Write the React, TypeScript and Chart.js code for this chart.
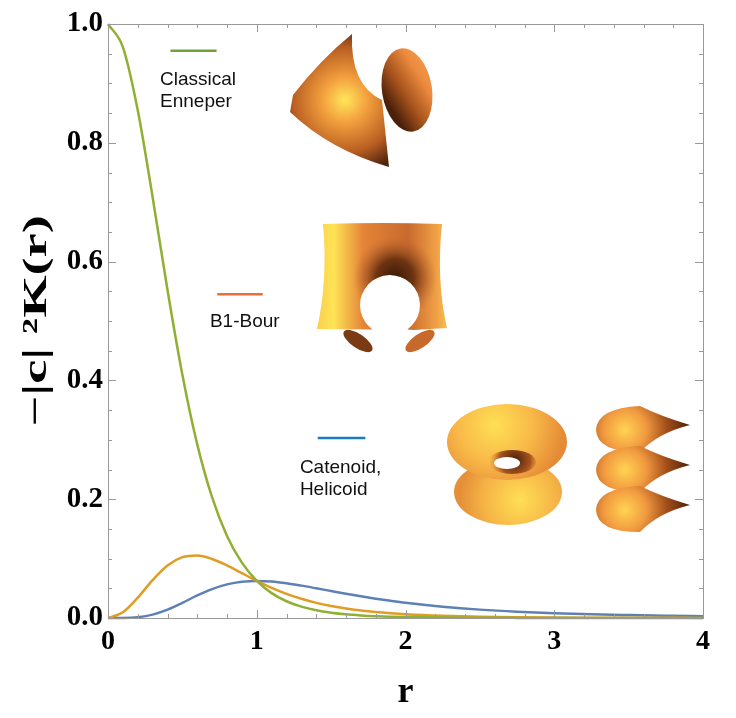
import { useEffect, useRef } from "react";
import { Chart, registerables } from "chart.js";

Chart.register(...registerables);

// r values and -|c|^2 K(r)
const rValues = [
  0, 0.1, 0.2, 0.3, 0.4, 0.5, 0.6, 0.7, 0.8, 0.9, 1.0, 1.1, 1.2, 1.3, 1.4, 1.5, 1.6, 1.7, 1.8, 1.9, 2.0,
  2.25, 2.5, 2.75, 3.0, 3.25, 3.5, 3.75, 4.0,
];
const enneper = [
  1, 0.961, 0.8548, 0.7084, 0.5523, 0.4096, 0.2923, 0.2029, 0.1382, 0.0932, 0.0625, 0.0419, 0.0282, 0.0191,
  0.013, 0.009, 0.0062, 0.0044, 0.0031, 0.0022, 0.0016, 0.0007, 0.0004, 0.0002, 0.0001, 0.0001, 0, 0, 0,
];
const bour = [
  0, 0.0096, 0.0342, 0.0638, 0.0884, 0.1024, 0.1052, 0.0994, 0.0885, 0.0755, 0.0625, 0.0507, 0.0406, 0.0323,
  0.0255, 0.0202, 0.0159, 0.0126, 0.01, 0.008, 0.0064, 0.0038, 0.0023, 0.0014, 0.0009, 0.0006, 0.0004, 0.0003,
  0.0002,
];
const catenoid = [
  0, 0.0001, 0.0014, 0.0057, 0.0141, 0.0256, 0.0379, 0.0487, 0.0566, 0.0611, 0.0625, 0.0614, 0.0585, 0.0545,
  0.05, 0.0454, 0.0408, 0.0365, 0.0325, 0.0289, 0.0256, 0.019, 0.0141, 0.0106, 0.0081, 0.0062, 0.0049, 0.0038,
  0.0031,
];

const xTicks = [0, 1, 2, 3, 4];
const yTicks = [0, 0.2, 0.4, 0.6, 0.8, 1.0];
const xMinor = [0.2, 0.4, 0.6, 0.8, 1.2, 1.4, 1.6, 1.8, 2.2, 2.4, 2.6, 2.8, 3.2, 3.4, 3.6, 3.8];
const yMinor = [0.05, 0.1, 0.15, 0.25, 0.3, 0.35, 0.45, 0.5, 0.55, 0.65, 0.7, 0.75, 0.85, 0.9, 0.95];

const SERIF = "'Liberation Serif', 'DejaVu Serif', serif";
const SANS = "'Liberation Sans', Arial, sans-serif";

// frame with inward ticks on all four sides, plus the stretched y title
const framePlugin = {
  id: "frame",
  afterDraw(chart: any) {
    const { ctx, chartArea: a, scales } = chart;
    const x = scales.x;
    const y = scales.y;
    ctx.save();
    ctx.strokeStyle = "#9a9a9a";
    ctx.lineWidth = 1;
    ctx.strokeRect(a.left + 0.5, a.top + 0.5, a.right - a.left, a.bottom - a.top);
    ctx.beginPath();
    const xt = (v: number, len: number) => {
      const px = Math.round(x.getPixelForValue(v)) + 0.5;
      ctx.moveTo(px, a.bottom);
      ctx.lineTo(px, a.bottom - len);
      ctx.moveTo(px, a.top);
      ctx.lineTo(px, a.top + len);
    };
    const yt = (v: number, len: number) => {
      const py = Math.round(y.getPixelForValue(v)) + 0.5;
      ctx.moveTo(a.left, py);
      ctx.lineTo(a.left + len, py);
      ctx.moveTo(a.right, py);
      ctx.lineTo(a.right - len, py);
    };
    xTicks.forEach((v) => xt(v, 8));
    xMinor.forEach((v) => xt(v, 4));
    yTicks.forEach((v) => yt(v, 8));
    yMinor.forEach((v) => yt(v, 4));
    ctx.stroke();

    ctx.translate(37, (a.top + a.bottom) / 2);
    ctx.rotate(-Math.PI / 2);
    ctx.scale(1.6, 1);
    ctx.fillStyle = "#000";
    ctx.font = `bold 34px ${SERIF}`;
    ctx.textAlign = "center";
    ctx.textBaseline = "middle";
    ctx.fillText("−|c| ²K(r)", 0, 0);
    ctx.restore();
  },
};

// legend entries written inside the plot, placed in data units
const labelPlugin = {
  id: "labels",
  afterDatasetsDraw(chart: any) {
    const { ctx, scales } = chart;
    const X = (v: number) => scales.x.getPixelForValue(v);
    const Y = (v: number) => scales.y.getPixelForValue(v);
    const entries = [
      { color: "#72a03a", line: [0.42, 0.73, 0.955], text: ["Classical", "Enneper"], at: [0.35, 0.906] },
      { color: "#ee6b3b", line: [0.735, 1.04, 0.545], text: ["B1-Bour"], at: [0.685, 0.498] },
      { color: "#1b7cc0", line: [1.41, 1.73, 0.303], text: ["Catenoid,", "Helicoid"], at: [1.29, 0.253] },
    ];
    ctx.save();
    entries.forEach((e) => {
      ctx.strokeStyle = e.color;
      ctx.lineWidth = 2.5;
      ctx.beginPath();
      ctx.moveTo(X(e.line[0]), Y(e.line[2]));
      ctx.lineTo(X(e.line[1]), Y(e.line[2]));
      ctx.stroke();
      ctx.fillStyle = "#111";
      ctx.font = `19px ${SANS}`;
      ctx.textAlign = "left";
      ctx.textBaseline = "middle";
      e.text.forEach((t, i) => ctx.fillText(t, X(e.at[0]), Y(e.at[1]) + i * 22));
    });
    ctx.restore();
  },
};

// rough sketches of the surface renderings
const surfacePlugin = {
  id: "surfaces",
  beforeDatasetsDraw(chart: any) {
    const { ctx, chartArea: a } = chart;
    const sx = (a.right - a.left) / 595;
    const sy = (a.bottom - a.top) / 594;
    const P = (px: number, py: number): [number, number] => [a.left + (px - 108) * sx, a.top + (py - 24) * sy];
    const radial = (cx: number, cy: number, r: number, stops: [number, string][]) => {
      const [x, y] = P(cx, cy);
      const g = ctx.createRadialGradient(x, y, 0, x, y, r * sx);
      stops.forEach(([o, c]) => g.addColorStop(o, c));
      return g;
    };
    const linear = (x0: number, y0: number, x1: number, y1: number, stops: [number, string][]) => {
      const [ax, ay] = P(x0, y0);
      const [bx, by] = P(x1, y1);
      const g = ctx.createLinearGradient(ax, ay, bx, by);
      stops.forEach(([o, c]) => g.addColorStop(o, c));
      return g;
    };
    const path = (pts: number[][]) => {
      ctx.beginPath();
      pts.forEach((p, i) => {
        if (i === 0) ctx.moveTo(...P(p[0], p[1]));
        else if (p.length === 4) ctx.quadraticCurveTo(...P(p[0], p[1]), ...P(p[2], p[3]));
        else ctx.lineTo(...P(p[0], p[1]));
      });
      ctx.closePath();
    };
    const ellipse = (cx: number, cy: number, rx: number, ry: number, rot = 0) => {
      ctx.beginPath();
      const [x, y] = P(cx, cy);
      ctx.ellipse(x, y, rx * sx, ry * sy, rot, 0, Math.PI * 2);
    };
    ctx.save();

    // Enneper
    ellipse(407, 90, 25, 42, -0.15);
    ctx.fillStyle = linear(385, 100, 432, 70, [
      [0, "#4a200a"],
      [0.35, "#a5521c"],
      [0.75, "#ec8a3e"],
      [1, "#f39a48"],
    ]);
    ctx.fill();
    path([
      [293, 95],
      [320, 60, 352, 34],
      [350, 85, 382, 100],
      [389, 167],
      [330, 150, 290, 112],
    ]);
    ctx.fillStyle = radial(345, 100, 75, [
      [0, "#ffe65a"],
      [0.3, "#f3a03e"],
      [0.7, "#b85e22"],
      [1, "#4e230c"],
    ]);
    ctx.fill();

    // B1-Bour: sheet with a round hole and two hanging flaps
    ctx.fillStyle = "#7a3a14";
    ellipse(358, 341, 17, 7, 0.6);
    ctx.fill();
    ctx.fillStyle = "#c8692c";
    ellipse(420, 341, 17, 7, -0.6);
    ctx.fill();
    const [hx, hy] = P(390, 305);
    const hr = 30 * sx;
    ctx.beginPath();
    ctx.moveTo(...P(323, 224));
    ctx.quadraticCurveTo(...P(382, 222), ...P(442, 224));
    ctx.quadraticCurveTo(...P(436, 280), ...P(447, 328));
    ctx.lineTo(...P(414, 330));
    ctx.arc(hx, hy, hr, 0.95, Math.PI - 0.95, true);
    ctx.lineTo(...P(317, 329));
    ctx.quadraticCurveTo(...P(328, 280), ...P(323, 224));
    ctx.closePath();
    ctx.fillStyle = linear(318, 280, 447, 280, [
      [0, "#fbcf4e"],
      [0.12, "#ffe455"],
      [0.35, "#e48438"],
      [0.7, "#c96a2e"],
      [0.92, "#f0a046"],
      [1, "#f6c04c"],
    ]);
    ctx.fill();
    ctx.fillStyle = radial(395, 278, 42, [
      [0, "#3a1806"],
      [0.45, "#6e3412"],
      [1, "rgba(190,100,45,0)"],
    ]);
    ctx.fill();

    // Catenoid
    ellipse(508, 492, 54, 33);
    ctx.fillStyle = radial(520, 500, 60, [
      [0, "#ffdf55"],
      [0.6, "#f6b447"],
      [1, "#e59038"],
    ]);
    ctx.fill();
    ellipse(507, 442, 60, 38);
    ctx.fillStyle = radial(495, 425, 70, [
      [0, "#ffe055"],
      [0.55, "#f8b848"],
      [1, "#e58a36"],
    ]);
    ctx.fill();
    ellipse(512, 462, 24, 12);
    ctx.fillStyle = radial(515, 460, 26, [
      [0, "#4a200a"],
      [0.6, "#a8541e"],
      [1, "rgba(235,140,60,0)"],
    ]);
    ctx.fill();
    ellipse(507, 463, 13, 6);
    ctx.fillStyle = "#ffffff";
    ctx.fill();

    // Helicoid
    [430, 470, 510].forEach((yc) => {
      path([
        [640, yc - 24],
        [597, yc - 22, 596, yc],
        [597, yc + 22, 640, yc + 22],
        [658, yc + 3, 690, yc - 5],
        [660, yc - 14, 640, yc - 24],
      ]);
      ctx.fillStyle = radial(625, yc, 70, [
        [0, "#ffd452"],
        [0.3, "#f29a40"],
        [0.6, "#a24e1a"],
        [1, "#3a1806"],
      ]);
      ctx.fill();
    });
    ctx.restore();
  },
};

export default function App() {
  const canvasRef = useRef<HTMLCanvasElement>(null);

  useEffect(() => {
    document.body.style.margin = "0";
    const ctx = canvasRef.current;
    if (!ctx) return;

    const toPoints = (vals: number[]) => vals.map((v, i) => ({ x: rValues[i], y: v }));
    const line = (label: string, vals: number[], color: string) => ({
      label,
      data: toPoints(vals),
      borderColor: color,
      backgroundColor: color,
      borderWidth: 2.5,
      pointRadius: 0,
      cubicInterpolationMode: "monotone" as const,
      clip: 4,
    });

    const chart = new Chart(ctx, {
      type: "line",
      data: {
        datasets: [
          line("Classical Enneper", enneper, "#8fb032"),
          line("B1-Bour", bour, "#e19c24"),
          line("Catenoid, Helicoid", catenoid, "#5e81b5"),
        ],
      },
      options: {
        animation: false,
        responsive: true,
        maintainAspectRatio: false,
        layout: { padding: { top: 24, right: 33, left: 0, bottom: 0 } },
        plugins: { legend: { display: false }, tooltip: { enabled: false } },
        scales: {
          x: {
            type: "linear",
            min: 0,
            max: 4,
            grid: { display: false, drawTicks: false },
            border: { display: false },
            afterBuildTicks: (s: any) => {
              s.ticks = xTicks.map((v) => ({ value: v }));
            },
            afterFit: (s: any) => {
              s.height = 100;
            },
            ticks: {
              color: "#000",
              padding: 7,
              font: { family: SERIF, size: 28, weight: "bold" },
              callback: (v: any) => String(v),
            },
            title: {
              display: true,
              text: "r",
              color: "#000",
              padding: { top: 14 },
              font: { family: SERIF, size: 36, weight: "bold" },
            },
          },
          y: {
            min: 0,
            max: 1,
            grid: { display: false, drawTicks: false },
            border: { display: false },
            afterBuildTicks: (s: any) => {
              s.ticks = yTicks.map((v) => ({ value: v }));
            },
            afterFit: (s: any) => {
              s.width = 108;
            },
            ticks: {
              color: "#000",
              padding: 5,
              font: { family: SERIF, size: 29, weight: "bold" },
              callback: (v: any) => Number(v).toFixed(1),
            },
          },
        },
      },
      plugins: [surfacePlugin, framePlugin, labelPlugin],
    });

    return () => {
      chart.destroy();
    };
  }, []);

  return (
    <div style={{ width: 736, height: 718, position: "relative" }}>
      <canvas ref={canvasRef}></canvas>
    </div>
  );
}
